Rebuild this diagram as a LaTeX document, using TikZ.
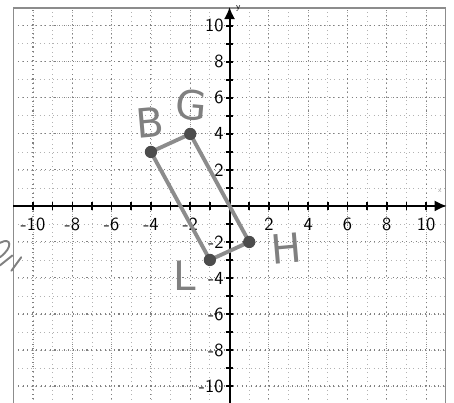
\documentclass[tikz,border=0pt]{standalone}
\usepackage{fontspec}
\newfontfamily\handfont{DejaVu Sans}
\usetikzlibrary{arrows.meta}

\begin{document}
\begin{tikzpicture}[x=0.393cm,y=0.36cm,gridline/.style={black!30,dotted,line width=0.5pt},mainline/.style={black!50,dotted,line width=0.6pt},frame/.style={black!45,line width=0.8pt},axis/.style={black,line width=1.1pt,-{Latex[length=2.4mm,width=2.2mm]}},tick/.style={black,line width=0.9pt},ticklabel/.style={font=\sffamily\fontsize{10.5}{10.5}\selectfont,text=black,inner sep=1pt},side/.style={black!45,line width=2.2pt,line cap=round,line join=round},dot/.style={circle,fill=black!70,inner sep=0pt,minimum size=7pt},hand/.style={font=\handfont\fontsize{23}{23}\selectfont,text=black!50},scrawl/.style={black!50,line width=1.1pt,line cap=round}]
\useasboundingbox (-11.68,-10.89) rectangle (11.42,11.44);
\clip (-11.68,-10.89) rectangle (11.42,11.44);
% grid
\foreach \i in {-11,...,11} {\draw[gridline] (\i,-11) -- (\i,11); \draw[gridline] (-11,\i) -- (11,\i);}
\foreach \i in {-10,-8,...,10} {\draw[mainline] (\i,-11) -- (\i,11); \draw[mainline] (-11,\i) -- (11,\i);}
\draw[frame] (-11,-11) -- (-11,11) -- (11,11) -- (11,-11);
% axes
\coordinate (xmin) at (-11,0); \coordinate (xmax) at (11.05,0);
\coordinate (ymin) at (0,-11); \coordinate (ymax) at (0,11.05);
\draw[axis] (xmin) -- (xmax);
\draw[axis] (ymin) -- (ymax);
\foreach \i in {-10,...,-1,1,2,...,10} {\draw[tick] (\i,-0.24) -- (\i,0.24); \draw[tick] (-0.2,\i) -- (0.2,\i);}
\foreach \i in {-10,-8,...,-2,2,4,...,10} {\node[ticklabel] (xl\i) at (\i,-1.0) {\i}; \node[ticklabel,anchor=east] (yl\i) at (-0.2,\i) {\i};}
\node[font=\sffamily\fontsize{5}{5}\selectfont,inner sep=0pt] (ylab) at (0.45,10.95) {y};
\node[font=\sffamily\fontsize{4}{4}\selectfont,text=black!40,inner sep=0pt] (xlab) at (10.7,0.85) {x};
% parallelogram
\coordinate (b) at (-4,3); \coordinate (g) at (-2,4); \coordinate (h) at (1,-2); \coordinate (l) at (-1,-3);
\draw[side] (b) -- (g) -- (h) -- (l) -- cycle;
\foreach \p in {b,g,h,l} \node[dot] (d\p) at (\p) {};
\node[hand,rotate=5] (nb) at (-4.05,4.65) {B};
\node[hand,rotate=-5] (ng) at (-1.95,5.6) {G};
\node[hand,rotate=5] (nh) at (2.9,-2.35) {H};
\node[hand] (nl) at (-2.3,-3.9) {L};
% cut-off scrawl at the left edge
\draw[scrawl] (-11.68,-2.05) .. controls (-11.1,-1.7) and (-11.0,-2.3) .. (-11.68,-2.85);
\draw[scrawl] (-11.68,-3.3) .. controls (-11.4,-3.0) .. (-11.05,-2.75);
\draw[scrawl] (-11.1,-3.6) -- (-10.6,-2.85);
\end{tikzpicture}
\end{document}
